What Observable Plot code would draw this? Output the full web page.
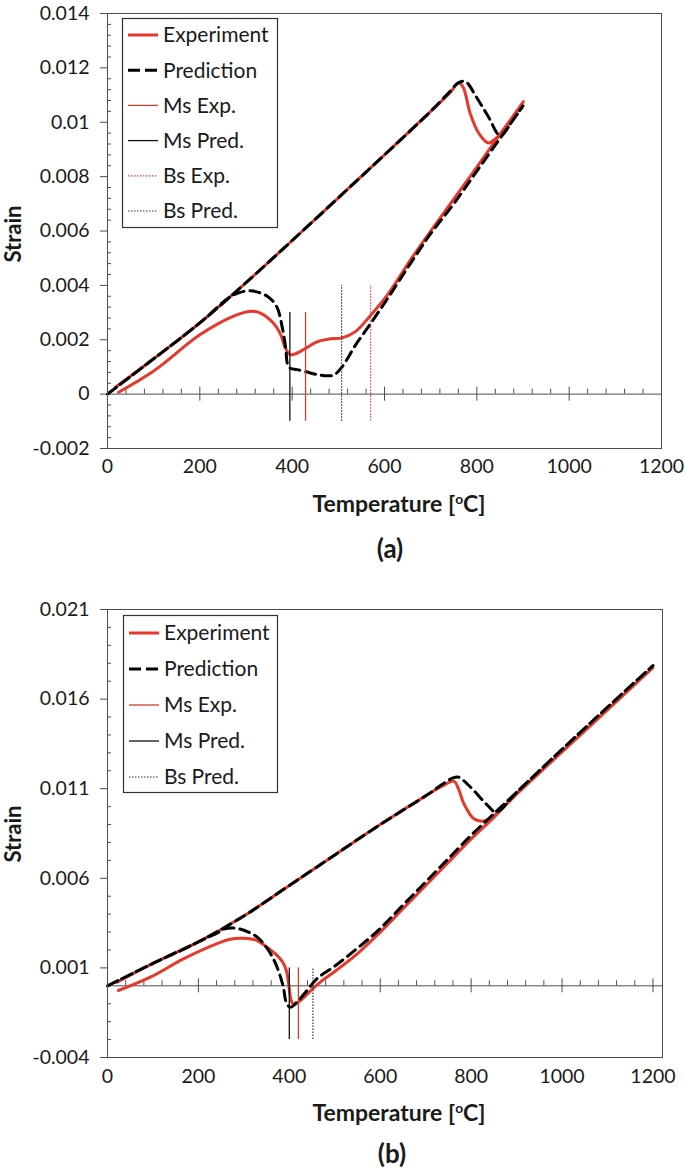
<!DOCTYPE html>
<html><head><meta charset="utf-8">
<script src="https://cdn.jsdelivr.net/npm/d3@7"></script>
<script src="https://cdn.jsdelivr.net/npm/@observablehq/plot@0.6"></script>
<style>
body{margin:0;background:#fff;font-family:Lato,sans-serif;color:#1a1a1a}
#page{position:relative;width:685px;height:1172px;overflow:hidden;background:#fff}
.xt{position:absolute;font-weight:bold;font-size:23px;white-space:nowrap;transform:translate(-50%,-50%)}
.xt sup{font-size:0.6em;vertical-align:0.55em;line-height:0}
.yt{position:absolute;font-weight:bold;font-size:22px;white-space:nowrap;transform:translate(-50%,-50%) rotate(-90deg)}
.cap{position:absolute;font-weight:bold;font-size:26px;white-space:nowrap;transform:translate(-50%,-50%)}
</style></head><body><div id="page"></div>
<script>
// ---------- data ----------
const xTicks = [0, 200, 400, 600, 800, 1000, 1200];
const yTicksA = [-0.002, 0, 0.002, 0.004, 0.006, 0.008, 0.01, 0.012, 0.014];
const yTicksB = [-0.004, 0.001, 0.006, 0.011, 0.016, 0.021];
const xTitle = "Temperature [<sup>o</sup>C]";
const yTitle = "Strain";
const seriesNames = ["Experiment", "Prediction", "Ms Exp.", "Ms Pred.", "Bs Exp.", "Bs Pred."];

// panel (a): [temperature °C, strain]
const expA = [
  [17,0.00025],[100,0.0013],[200,0.00262],[300,0.0041],[400,0.00565],[500,0.00722],[600,0.0088],[700,0.0104],
  [743,0.0111],[760,0.01145],[770,0.0113],[786,0.0103],[804,0.0096],[825,0.00924],[847,0.0095],[870,0.0100],[901,0.01076],
  [850,0.00955],[800,0.00835],[750,0.00717],[700,0.0060],[660,0.00503],[606,0.00364],[570,0.0029],[537,0.0023],
  [508,0.00207],[483,0.00204],[455,0.00193],[425,0.00164],[405,0.00147],[396,0.00145],[385,0.0017],[375,0.0022],
  [360,0.0026],[331,0.00298],[310,0.00305],[273,0.00287],[200,0.00218],[100,0.00085],[24,0.00007]
];
const predA = [
  [0,0],[100,0.0013],[200,0.00262],[300,0.0041],[400,0.00565],[500,0.00722],[600,0.0088],[700,0.0104],
  [740,0.0111],[760,0.01145],[775,0.0115],[800,0.0109],[825,0.0102],[851,0.0095],[875,0.0100],[900,0.0106],
  [850,0.0094],[800,0.0082],[750,0.0070],[700,0.0059],[656,0.0048],[606,0.0035],[566,0.0025],[537,0.0018],
  [508,0.0010],[490,0.0007],[470,0.00068],[454,0.00072],[430,0.00082],[411,0.0009],[396,0.00095],[390,0.0011],
  [386,0.0017],[378,0.0025],[367,0.0032],[346,0.0036],[310,0.0038],[280,0.0037],[259,0.0035],[200,0.00262],[100,0.0013],[0,0]
];
const msExpA = 429, msPredA = 395, bsExpA = 570, bsPredA = 507;
const msSpanA = [-0.001, 0.003], bsSpanA = [-0.001, 0.004];

// panel (b)
const expB = [
  [21,0.0002],[100,0.00125],[200,0.00245],[300,0.0039],[400,0.0056],[500,0.0073],[600,0.0090],[700,0.0106],
  [740,0.0112],[762,0.01142],[772,0.0110],[784,0.01016],[806,0.00932],[824,0.00919],[843,0.00935],[900,0.0107],
  [1000,0.01305],[1100,0.0154],[1200,0.01775],
  [1100,0.0154],[1000,0.01305],[900,0.0107],[850,0.0094],[800,0.0082],[750,0.0069],[700,0.0056],[650,0.0043],
  [600,0.0030],[550,0.0018],[500,0.0008],[470,0.00025],[450,-0.0002],[430,-0.0007],[418,-0.00095],[410,-0.00105],
  [404,-0.0008],[399,0.0],[394,0.0008],[386,0.0013],[373,0.0017],[351,0.00215],[329,0.00253],[299,0.00265],
  [270,0.0026],[241,0.00235],[167,0.0015],[94,0.00048],[24,-0.00026]
];
const predB = [
  [0,0],[100,0.00125],[200,0.00245],[300,0.0039],[400,0.0056],[500,0.0073],[600,0.0090],[700,0.0106],
  [740,0.0113],[760,0.0116],[773,0.01164],[790,0.0113],[806,0.0109],[835,0.0101],[855,0.0097],[900,0.0108],
  [1000,0.0132],[1100,0.01555],[1200,0.01787],
  [1100,0.01555],[1000,0.0132],[900,0.0108],[850,0.0096],[800,0.0084],[750,0.0071],[700,0.0058],[650,0.0045],
  [600,0.0032],[550,0.0021],[500,0.0011],[461,0.0004],[439,-0.00026],[417,-0.0009],[402,-0.0012],[393,-0.0009],
  [387,-0.0001],[378,0.0007],[367,0.0014],[351,0.0021],[330,0.0027],[310,0.0030],[285,0.0032],[260,0.0032],
  [245,0.0030],[200,0.00245],[100,0.00125],[0,0]
];
const msExpB = 420, msPredB = 400, bsPredB = 452;
const msSpanB = [-0.003, 0.001], bsSpanB = [-0.003, 0.001];

// ---------- drawing ----------
const RED = "#e6392c", RED2 = "#c8402f", GREY = "#4d4d4d";
const page = document.getElementById("page");
const fmtY = d => String(+d.toFixed(4));
const toObj = a => a.map(([T, s]) => ({T, s}));

function panel(cfg) {
  const innerW = 685 - 107 - cfg.marginRight;
  const k = (cfg.yDomain[1] - cfg.yDomain[0]) / cfg.innerH;
  const xMinor = d3.range(0, 1201, 40).filter(v => v % 200 !== 0);
  const yMinor = d3.range(cfg.yDomain[0], cfg.yDomain[1] + cfg.minorStep / 2, cfg.minorStep)
    .filter(v => !cfg.yTicks.some(t => Math.abs(t - v) < cfg.minorStep / 10));
  const marks = [
    Plot.ruleY([0], {stroke: GREY}),
    Plot.ruleX(xTicks, {x: d => d, y1: -7 * k, y2: 7 * k, stroke: GREY}),
    Plot.ruleX(xMinor, {x: d => d, y1: 0, y2: 5 * k, stroke: GREY}),
    Plot.tickY(yMinor, {y: d => d, insetRight: innerW - 4, stroke: GREY}),
    Plot.axisY({ticks: cfg.yTicks, tickSize: 7, tickPadding: 11, tickFormat: fmtY, label: null, stroke: GREY, fill: "#1a1a1a"}),
    Plot.axisX({ticks: xTicks, tickSize: 0, tickPadding: cfg.xPad, tickFormat: d => String(d), label: null, fill: "#1a1a1a"}),
    Plot.line(toObj(cfg.exp), {x: "T", y: "s", stroke: RED, strokeWidth: 3, curve: "catmull-rom"}),
    Plot.line(toObj(cfg.pred), {x: "T", y: "s", stroke: "#000", strokeWidth: 3, strokeDasharray: "10,6", curve: "catmull-rom"}),
    Plot.ruleX([cfg.msPred], {x: d => d, y1: cfg.msSpan[0], y2: cfg.msSpan[1], stroke: "#111", strokeWidth: 1.3}),
    Plot.ruleX([cfg.msExp], {x: d => d, y1: cfg.msSpan[0], y2: cfg.msSpan[1], stroke: RED2, strokeWidth: 1.3}),
    Plot.ruleX([cfg.bsPred], {x: d => d, y1: cfg.bsSpan[0], y2: cfg.bsSpan[1], stroke: "#333", strokeWidth: 1.2, strokeDasharray: "1.5,1.5"})
  ];
  if (cfg.bsExp != null) marks.push(Plot.ruleX([cfg.bsExp], {x: d => d, y1: cfg.bsSpan[0], y2: cfg.bsSpan[1], stroke: "#d9433a", strokeWidth: 1.2, strokeDasharray: "1.5,1.5"}));
  marks.push(Plot.frame({stroke: GREY}));
  const svg = Plot.plot({
    width: 685, height: cfg.marginTop + cfg.innerH + 34,
    marginLeft: 107, marginRight: cfg.marginRight, marginTop: cfg.marginTop, marginBottom: 34,
    style: {fontFamily: "Lato, sans-serif", fontSize: "19.5px", color: GREY, background: "transparent", overflow: "visible"},
    x: {domain: cfg.xDomain},
    y: {domain: cfg.yDomain},
    marks
  });
  svg.style.position = "absolute";
  svg.style.left = "0px";
  svg.style.top = cfg.top + "px";
  page.appendChild(svg);
}

function legend(items, left, top, w, h, first, step) {
  const ns = "http://www.w3.org/2000/svg";
  const svg = document.createElementNS(ns, "svg");
  svg.setAttribute("width", w + 2); svg.setAttribute("height", h + 2);
  svg.style.position = "absolute"; svg.style.left = (left - 1) + "px"; svg.style.top = (top - 1) + "px";
  const styles = {
    "Experiment": {stroke: RED, w: 3},
    "Prediction": {stroke: "#000", w: 3, dash: "12,5"},
    "Ms Exp.": {stroke: RED2, w: 1.3},
    "Ms Pred.": {stroke: "#111", w: 1.3},
    "Bs Exp.": {stroke: "#d9433a", w: 1.2, dash: "1.5,1.5"},
    "Bs Pred.": {stroke: "#333", w: 1.2, dash: "1.5,1.5"}
  };
  let html = `<rect x="1.5" y="1.5" width="${w - 1}" height="${h - 1}" fill="#fff" stroke="#333" stroke-width="1.2"/>`;
  items.forEach((name, i) => {
    const y = 1 + first + i * step, st = styles[name];
    html += `<line x1="7" x2="37" y1="${y}" y2="${y}" stroke="${st.stroke}" stroke-width="${st.w}" ${st.dash ? `stroke-dasharray="${st.dash}"` : ""}/>`;
    html += `<text x="42" y="${y}" dy="0.35em" font-family="Lato, sans-serif" font-size="21" fill="#1a1a1a">${name}</text>`;
  });
  svg.innerHTML = html;
  page.appendChild(svg);
}

function label(cls, html, x, y) {
  const d = document.createElement("div");
  d.className = cls; d.innerHTML = html;
  d.style.left = x + "px"; d.style.top = y + "px";
  page.appendChild(d);
}

panel({top: 0, marginTop: 13, innerH: 435, marginRight: 24, xDomain: [0, 1200], yDomain: [-0.002, 0.014],
  yTicks: yTicksA, minorStep: 0.0004, xPad: 11, exp: expA, pred: predA,
  msExp: msExpA, msPred: msPredA, bsExp: bsExpA, bsPred: bsPredA, msSpan: msSpanA, bsSpan: bsSpanA});
panel({top: 580, marginTop: 29, innerH: 448, marginRight: 23, xDomain: [0, 1221], yDomain: [-0.004, 0.021],
  yTicks: yTicksB, minorStep: 0.001, xPad: 12, exp: expB, pred: predB,
  msExp: msExpB, msPred: msPredB, bsExp: null, bsPred: bsPredB, msSpan: msSpanB, bsSpan: bsSpanB});

legend(seriesNames, 122, 18, 156, 210, 17, 35.2);
legend(seriesNames.filter(n => n !== "Bs Exp."), 123, 615, 155, 178, 18, 36);

label("xt", xTitle, 399, 503);
label("xt", xTitle, 399, 1112);
label("yt", yTitle, 12, 234);
label("yt", yTitle, 12, 834);
label("cap", "(a)", 390, 548);
label("cap", "(b)", 392, 1153);
</script></body></html>
